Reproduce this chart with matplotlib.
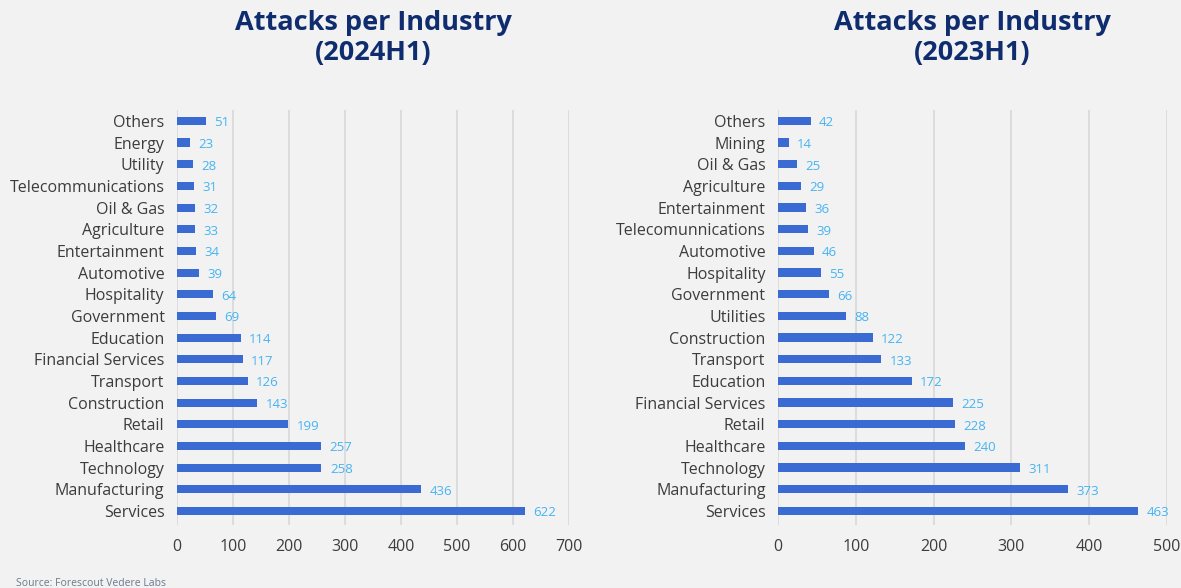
import matplotlib
matplotlib.use("Agg")
import matplotlib.pyplot as plt

cats_2024 = ["Others", "Energy", "Utility", "Telecommunications", "Oil & Gas", "Agriculture",
             "Entertainment", "Automotive", "Hospitality", "Government", "Education",
             "Financial Services", "Transport", "Construction", "Retail", "Healthcare",
             "Technology", "Manufacturing", "Services"]
vals_2024 = [51, 23, 28, 31, 32, 33, 34, 39, 64, 69, 114, 117, 126, 143, 199, 257, 258, 436, 622]

cats_2023 = ["Others", "Mining", "Oil & Gas", "Agriculture", "Entertainment", "Telecomunnications",
             "Automotive", "Hospitality", "Government", "Utilities", "Construction", "Transport",
             "Education", "Financial Services", "Retail", "Healthcare", "Technology",
             "Manufacturing", "Services"]
vals_2023 = [42, 14, 25, 29, 36, 39, 46, 55, 66, 88, 122, 133, 172, 225, 228, 240, 311, 373, 463]

ticks_2024 = [0, 100, 200, 300, 400, 500, 600, 700]
ticks_2023 = [0, 100, 200, 300, 400, 500]

BG = "#f2f2f2"
BAR = "#3a6bd2"
LBL = "#45b4f2"
TITLE = "#0f2d6e"
TXT = "#3c3c3c"
GRID = "#d8d8d8"

plt.rcParams['font.family'] = ['Open Sans', 'DejaVu Sans']

fig = plt.figure(figsize=(11.81, 5.88), dpi=100, facecolor=BG)
W, H = 1181, 588


def panel(rect, cats, vals, ticks, title, xmax, height):
    x0, y0, x1, y1 = rect
    ax = fig.add_axes([x0 / W, 1 - y1 / H, (x1 - x0) / W, (y1 - y0) / H])
    ax.set_facecolor(BG)
    n = len(cats)
    ys = list(range(n))
    ax.barh(ys, vals, height=height, color=BAR, zorder=3)
    ax.set_ylim(n - 1 + 0.65, -0.5)
    ax.set_xlim(0, xmax)
    ax.set_yticks(ys)
    ax.set_yticklabels(cats, fontsize=11.5, color=TXT)
    ax.tick_params(axis='y', length=0, pad=9)
    ax.set_xticks(ticks)
    ax.set_xticklabels([str(t) for t in ticks], fontsize=11.5, color=TXT)
    ax.tick_params(axis='x', length=0, pad=10)
    ax.grid(axis='x', color=GRID, linewidth=1.2, zorder=0)
    for s in ax.spines.values():
        s.set_visible(False)
    for y, v in zip(ys, vals):
        ax.annotate(str(v), (v, y), xytext=(6, -1.5), textcoords='offset points',
                    ha='left', va='center', fontsize=9.5, color=LBL)
    cx = (x0 + x1) / 2 / W
    fig.text(cx, 1 - 38 / H, title, ha='center', va='center', fontsize=19.5,
             fontweight='bold', color=TITLE, linespacing=1.2)
    return ax


panel((177, 110, 569, 525), cats_2024, vals_2024, ticks_2024,
      "Attacks per Industry\n(2024H1)", 700, 0.37)
panel((778, 110, 1167, 525), cats_2023, vals_2023, ticks_2023,
      "Attacks per Industry\n(2023H1)", 500, 0.38)

fig.text(16 / W, 1 - 584 / H, "Source: Forescout Vedere Labs", fontsize=7.5,
         color="#6a7a8a", ha='left', va='center')

fig.savefig("out.png", dpi=100, facecolor=BG)
